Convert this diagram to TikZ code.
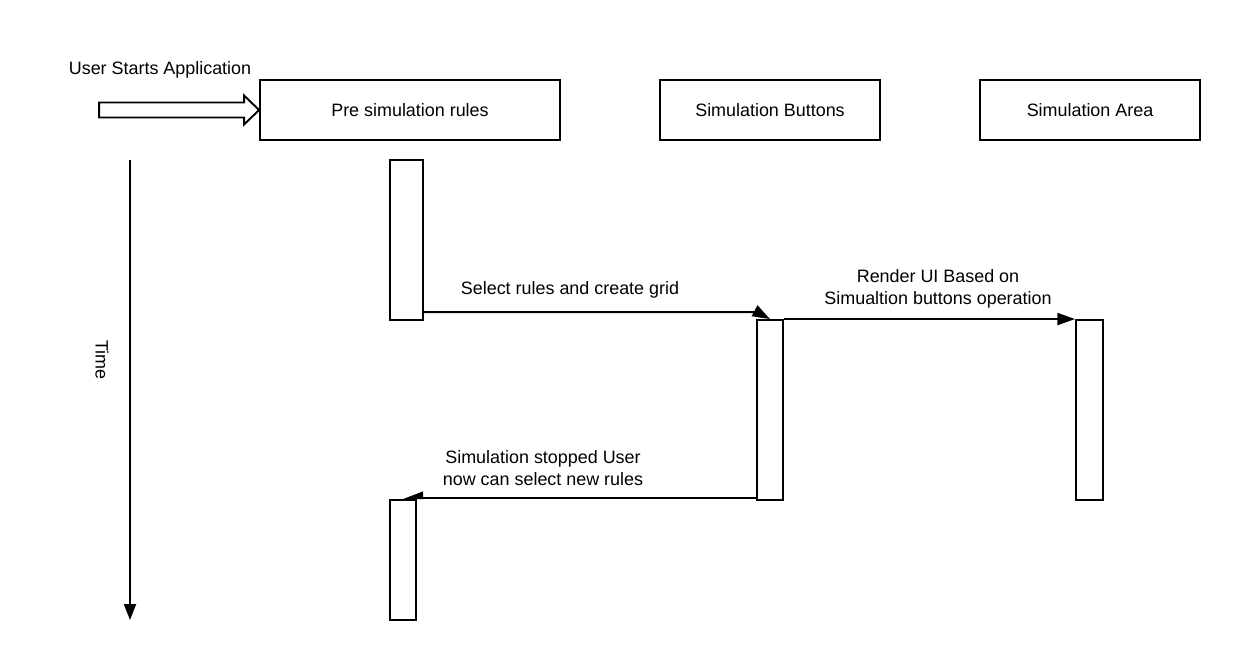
\documentclass[tikz,border=0pt]{standalone}
\usepackage{fontspec}
\setmainfont{Liberation Sans}
\usepackage{tikz}
\usetikzlibrary{arrows.meta, calc}
\tikzset{
	lifebox/.style={draw, line width=1.1pt, minimum height=1.2cm, inner sep=0pt},
	actbox/.style={draw, line width=1.1pt, fill=white, inner sep=0pt},
	timeaxis/.style={line width=1.1pt, -{Triangle[length=9pt, width=6.8pt]}},
	msg/.style={line width=1.1pt, -{Triangle[length=10pt, width=6.8pt]}},
	msgback/.style={line width=1.1pt, -{Triangle[right, length=10pt, width=7.4pt]}},
}

\begin{document}
\begin{tikzpicture}[x=0.02cm, y=-0.02cm, every node/.style={font=\fontsize{10.2}{12.5}\selectfont}]
	\useasboundingbox (0,0) rectangle (1240,660);
	% lifeline heads
	\node[lifebox, minimum width=6cm] (pre) at (410,110) {Pre simulation rules};
	\node[lifebox, minimum width=4.4cm] (buttons) at (770,110) {Simulation Buttons};
	\node[lifebox, minimum width=4.4cm] (area) at (1090,110) {Simulation Area};
	% entry
	\draw[line width=1.1pt, line join=miter] (pre.west) -- ++(-15,-14.5) -- ++(0,7) -- ++(-145,0) -- ++(0,15) -- ++(145,0) -- ++(0,7) -- cycle;
	\node (startLbl) at (160,70) {User Starts Application};
	% time axis
	\coordinate (t0) at (130,160);
	\coordinate (t1) at (130,620);
	\draw[timeaxis] (t0) -- (t1);
	\node[rotate=-90] (timeLbl) at (102,360) {Time};
	% activations
	\node[actbox, minimum width=0.66cm, minimum height=3.2cm] (act1) at (406.5,240) {};
	\node[actbox, minimum width=0.52cm, minimum height=3.6cm] (act2) at (770,410) {};
	\node[actbox, minimum width=0.54cm, minimum height=3.6cm] (act3) at (1089.5,410) {};
	\node[actbox, minimum width=0.52cm, minimum height=2.4cm] (act4) at (403,560) {};
	% messages
	\coordinate (k1) at ($(act2.north)+(-13,-7)$);
	\draw[msg] (act1.east |- k1) -- (k1) -- (act2.north);
	\node (selLbl) at (570,290) {Select rules and create grid};
	\draw[msg] (act2.north east) -- (act3.north west);
	\node[align=center] (renderLbl) at (938,289) {Render UI Based on\\Simualtion buttons operation};
	\coordinate (k3) at ($(act4.north)+(0,-1)$);
	\draw[msgback] (act2.west |- k3) -- (k3);
	\node[align=center] (stopLbl) at (543,468) {Simulation stopped User\\now can select new rules};
\end{tikzpicture}
\end{document}
